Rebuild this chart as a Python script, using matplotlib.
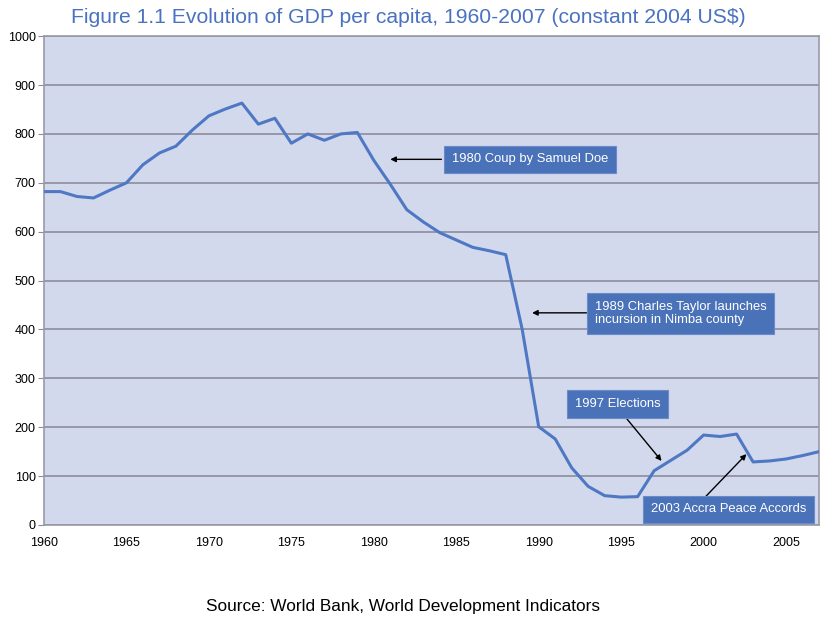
import matplotlib.pyplot as plt

plt.rcParams['font.family'] = ['Liberation Sans', 'DejaVu Sans']

# GDP per capita, constant 2004 US$
years = list(range(1960, 2008))
gdp = [682, 682, 672, 669, 685, 700, 737, 761, 775, 808,
       837, 851, 863, 820, 832, 781, 800, 787, 800, 803,
       746, 697, 645, 620, 598, 583, 568, 561, 553, 400,
       201, 176, 117, 79, 60, 57, 58, 111, 132, 153,
       184, 181, 186, 129, 131, 135, 142, 150]

# annotation: text, arrow tip, arrow tail, box centre (year, value)
notes = [
    ("1980 Coup by Samuel Doe", (1981.0, 748), (1984.1, 748), (1989.5, 748)),
    ("1989 Charles Taylor launches\nincursion in Nimba county",
     (1989.6, 434), (1992.9, 434), (1998.6, 433)),
    ("1997 Elections", (1997.45, 131), (1995.3, 219), (1994.8, 247)),
    ("2003 Accra Peace Accords", (2002.6, 145), (2000.15, 59), (2001.5, 32)),
]

blue = '#4a72b8'

fig = plt.figure(figsize=(8.21, 6.18), dpi=100)
ax = fig.add_axes([0.0536, 0.1505, 0.944, 0.791])
ax.set_facecolor('#d3d9ec')

ax.plot(years, gdp, color='#4f78c4', lw=2.2, zorder=3)

ax.set_xlim(1960, 2007)
ax.set_ylim(0, 1000)
ax.set_xticks(range(1960, 2006, 5))
ax.set_yticks(range(0, 1001, 100))
ax.grid(axis='y', color='#8c8c9c', lw=1.2)
ax.set_axisbelow(True)
for s in ax.spines.values():
    s.set_color('#9a9aa6')
    s.set_linewidth(1.2)
ax.tick_params(axis='y', length=4, color='#8c8c9c', labelsize=9, pad=2)
ax.tick_params(axis='x', length=0, labelsize=9, pad=9)

for txt, tip, tail, box in notes:
    ax.annotate('', xy=tip, xytext=tail,
                arrowprops=dict(arrowstyle='-|>', color='black', lw=1.0,
                                mutation_scale=8, shrinkA=0, shrinkB=0),
                zorder=4)
    ax.text(box[0], box[1], txt, color='white', fontsize=9.4,
            ha='center', va='center', multialignment='left',
            linespacing=1.1, zorder=5,
            bbox=dict(boxstyle='square,pad=0.6', fc=blue, ec='#6a8acb', lw=0.8))

fig.text(0.497, 0.972, 'Figure 1.1 Evolution of GDP per capita, 1960-2007 (constant 2004 US$)',
         ha='center', va='center', fontsize=15.2, color='#4a72c0')
fig.text(0.491, 0.019, 'Source: World Bank, World Development Indicators',
         ha='center', va='center', fontsize=12.4, color='black')

plt.savefig('out.png', dpi=100)
